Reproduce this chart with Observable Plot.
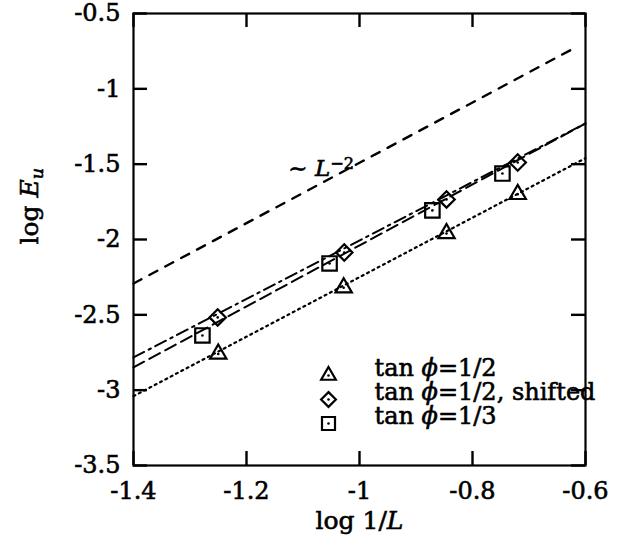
<!DOCTYPE html>
<html><head><meta charset="utf-8">
<script src="https://cdn.jsdelivr.net/npm/d3@7"></script>
<script src="https://cdn.jsdelivr.net/npm/@observablehq/plot@0.6"></script>
<style>html,body{margin:0;padding:0;background:#fff}svg{display:block}</style>
</head><body><div id="chart"></div>
<script>
// ---- data ----
const xTicks = [-1.4, -1.2, -1, -0.8, -0.6];
const yTicks = [-0.5, -1, -1.5, -2, -2.5, -3, -3.5];

// tan phi = 1/2 (triangles)
const triX = [-1.250, -1.028, -0.846, -0.720];
const triY = [-2.760, -2.320, -1.960, -1.700];
// tan phi = 1/2, shifted (diamonds)
const diaX = [-1.251, -1.027, -0.846, -0.720];
const diaY = [-2.517, -2.086, -1.734, -1.489];
// tan phi = 1/3 (squares)
const sqX = [-1.278, -1.053, -0.871, -0.747];
const sqY = [-2.637, -2.159, -1.807, -1.562];

// fitted / reference lines (end points)
const refX = [-1.4, -0.618];   // ~ L^-2
const refY = [-2.292, -0.726];
const triFitX = [-1.4, -0.6];
const triFitY = [-3.04, -1.46];
const diaFitX = [-1.4, -0.6];
const diaFitY = [-2.783, -1.230];
const sqFitX = [-1.4, -0.6];
const sqFitY = [-2.849, -1.230];

const annotX = -1.126, annotY = -1.529;
const annotText = "∼ L−2";
const xLabel = "log 1/L";
const yLabel = "log Eu";
const legendLabels = ["tan ϕ=1/2", "tan ϕ=1/2, shifted", "tan ϕ=1/3"];
const legendSymbols = ["triangle2", "diamond2", "square2"];

// ---- build ----
const pts = (xs, ys) => xs.map((x, i) => ({x, y: ys[i]}));
const FONT = "DejaVu Serif";
const W = 631, H = 546, ML = 133, MR = 46, MT = 13, MB = 81;
const FW = W - ML - MR, FH = H - MT - MB, TICK = 14;
const symR = {triangle2: 7.8, diamond2: 7.4, square2: 9.2};

const series = [
  {data: pts(triX, triY), symbol: "triangle2"},
  {data: pts(diaX, diaY), symbol: "diamond2"},
  {data: pts(sqX, sqY), symbol: "square2"}
];

const marks = [
  Plot.line(pts(refX, refY), {x: "x", y: "y", stroke: "black", strokeWidth: 2.4, strokeDasharray: "9,9"}),
  Plot.line(pts(triFitX, triFitY), {x: "x", y: "y", stroke: "black", strokeWidth: 2.2, strokeDasharray: "2,4"}),
  Plot.line(pts(diaFitX, diaFitY), {x: "x", y: "y", stroke: "black", strokeWidth: 2, strokeDasharray: "12,5,2.5,5"}),
  Plot.line(pts(sqFitX, sqFitY), {x: "x", y: "y", stroke: "black", strokeWidth: 2, strokeDasharray: "12,6"}),
];
for (const s of series) {
  marks.push(Plot.dot(s.data, {x: "x", y: "y", symbol: s.symbol, r: symR[s.symbol], stroke: "black", strokeWidth: 2.2, fill: "none"}));
  marks.push(Plot.dot(s.data, {x: "x", y: "y", r: 1.3, fill: "black"}));
}
// legend
legendLabels.forEach((lab, i) => {
  const dy = -90 + i * 24;
  marks.push(Plot.dot([lab], {frameAnchor: "bottom-left", dx: 195, dy, symbol: legendSymbols[i], r: symR[legendSymbols[i]] * 0.9, stroke: "black", strokeWidth: 2.2, fill: "none"}));
  marks.push(Plot.dot([lab], {frameAnchor: "bottom-left", dx: 195, dy, r: 1.3, fill: "black"}));
  marks.push(Plot.text([lab], {frameAnchor: "bottom-left", dx: 241, dy, textAnchor: "start", fontSize: 24, fontFamily: FONT, fill: "black"}));
});
// annotation
marks.push(Plot.text([annotText], {x: () => annotX, y: () => annotY, textAnchor: "start", fontSize: 23, fontFamily: FONT, fill: "black"}));
// axis labels
marks.push(Plot.text([xLabel], {frameAnchor: "bottom", dy: 63, fontSize: 25, fontFamily: FONT, fill: "black"}));
marks.push(Plot.text([yLabel], {frameAnchor: "left", dx: -104, dy: 5, rotate: -90, fontSize: 25, fontFamily: FONT, fill: "black"}));
// axes: tick labels
const fmt = d => String(d);
marks.push(Plot.axisX(xTicks, {anchor: "bottom", tickSize: 0, tickPadding: 16, tickFormat: fmt, label: null, fontSize: 24, fontFamily: FONT}));
marks.push(Plot.axisY(yTicks, {anchor: "left", tickSize: 0, tickPadding: 13, tickFormat: fmt, label: null, fontSize: 24, fontFamily: FONT}));
// inward ticks on all four sides
marks.push(Plot.ruleX(xTicks, {x: d => d, insetTop: FH - TICK, stroke: "black", strokeWidth: 2.4}));
marks.push(Plot.ruleX(xTicks, {x: d => d, insetBottom: FH - TICK, stroke: "black", strokeWidth: 2.4}));
marks.push(Plot.ruleY(yTicks, {y: d => d, insetRight: FW - TICK, stroke: "black", strokeWidth: 2.4}));
marks.push(Plot.ruleY(yTicks, {y: d => d, insetLeft: FW - TICK, stroke: "black", strokeWidth: 2.4}));
marks.push(Plot.frame({stroke: "black", strokeWidth: 2.2}));

const svg = Plot.plot({
  width: W, height: H,
  marginLeft: ML, marginRight: MR, marginTop: MT, marginBottom: MB,
  x: {domain: [-1.4, -0.6], label: null},
  y: {domain: [-3.5, -0.5], label: null},
  style: {fontFamily: FONT, fontSize: "24px", color: "black", background: "white"},
  marks
});

// rich text (italics, sub/superscripts)
const rich = {
  [annotText]: [["∼ "], ["L", {i: 1}], ["−2", {dy: "-0.45em", fs: "70%"}]],
  [xLabel]: [["log 1/"], ["L", {i: 1}]],
  [yLabel]: [["log "], ["E", {i: 1}], ["u", {i: 1, dy: "0.3em", fs: "70%"}]],
};
legendLabels.forEach(l => {
  const [a, b] = l.split("ϕ");
  rich[l] = [[a], ["ϕ", {i: 1}], [b]];
});
d3.select(svg).selectAll("text").each(function () {
  if (this.querySelector("tspan")) return;
  const parts = rich[this.textContent];
  if (!parts) return;
  const t = d3.select(this);
  t.text(null);
  for (const [s, o = {}] of parts) {
    const sp = t.append("tspan").text(s);
    if (o.i) sp.attr("font-style", "italic");
    if (o.dy) sp.attr("dy", o.dy);
    if (o.fs) sp.attr("font-size", o.fs);
  }
});
// heavier glyphs, like the printed original
d3.select(svg).selectAll("text").attr("stroke", "black").attr("stroke-width", 0.6).attr("paint-order", "fill");
document.getElementById("chart").appendChild(svg);
</script>
</body></html>
